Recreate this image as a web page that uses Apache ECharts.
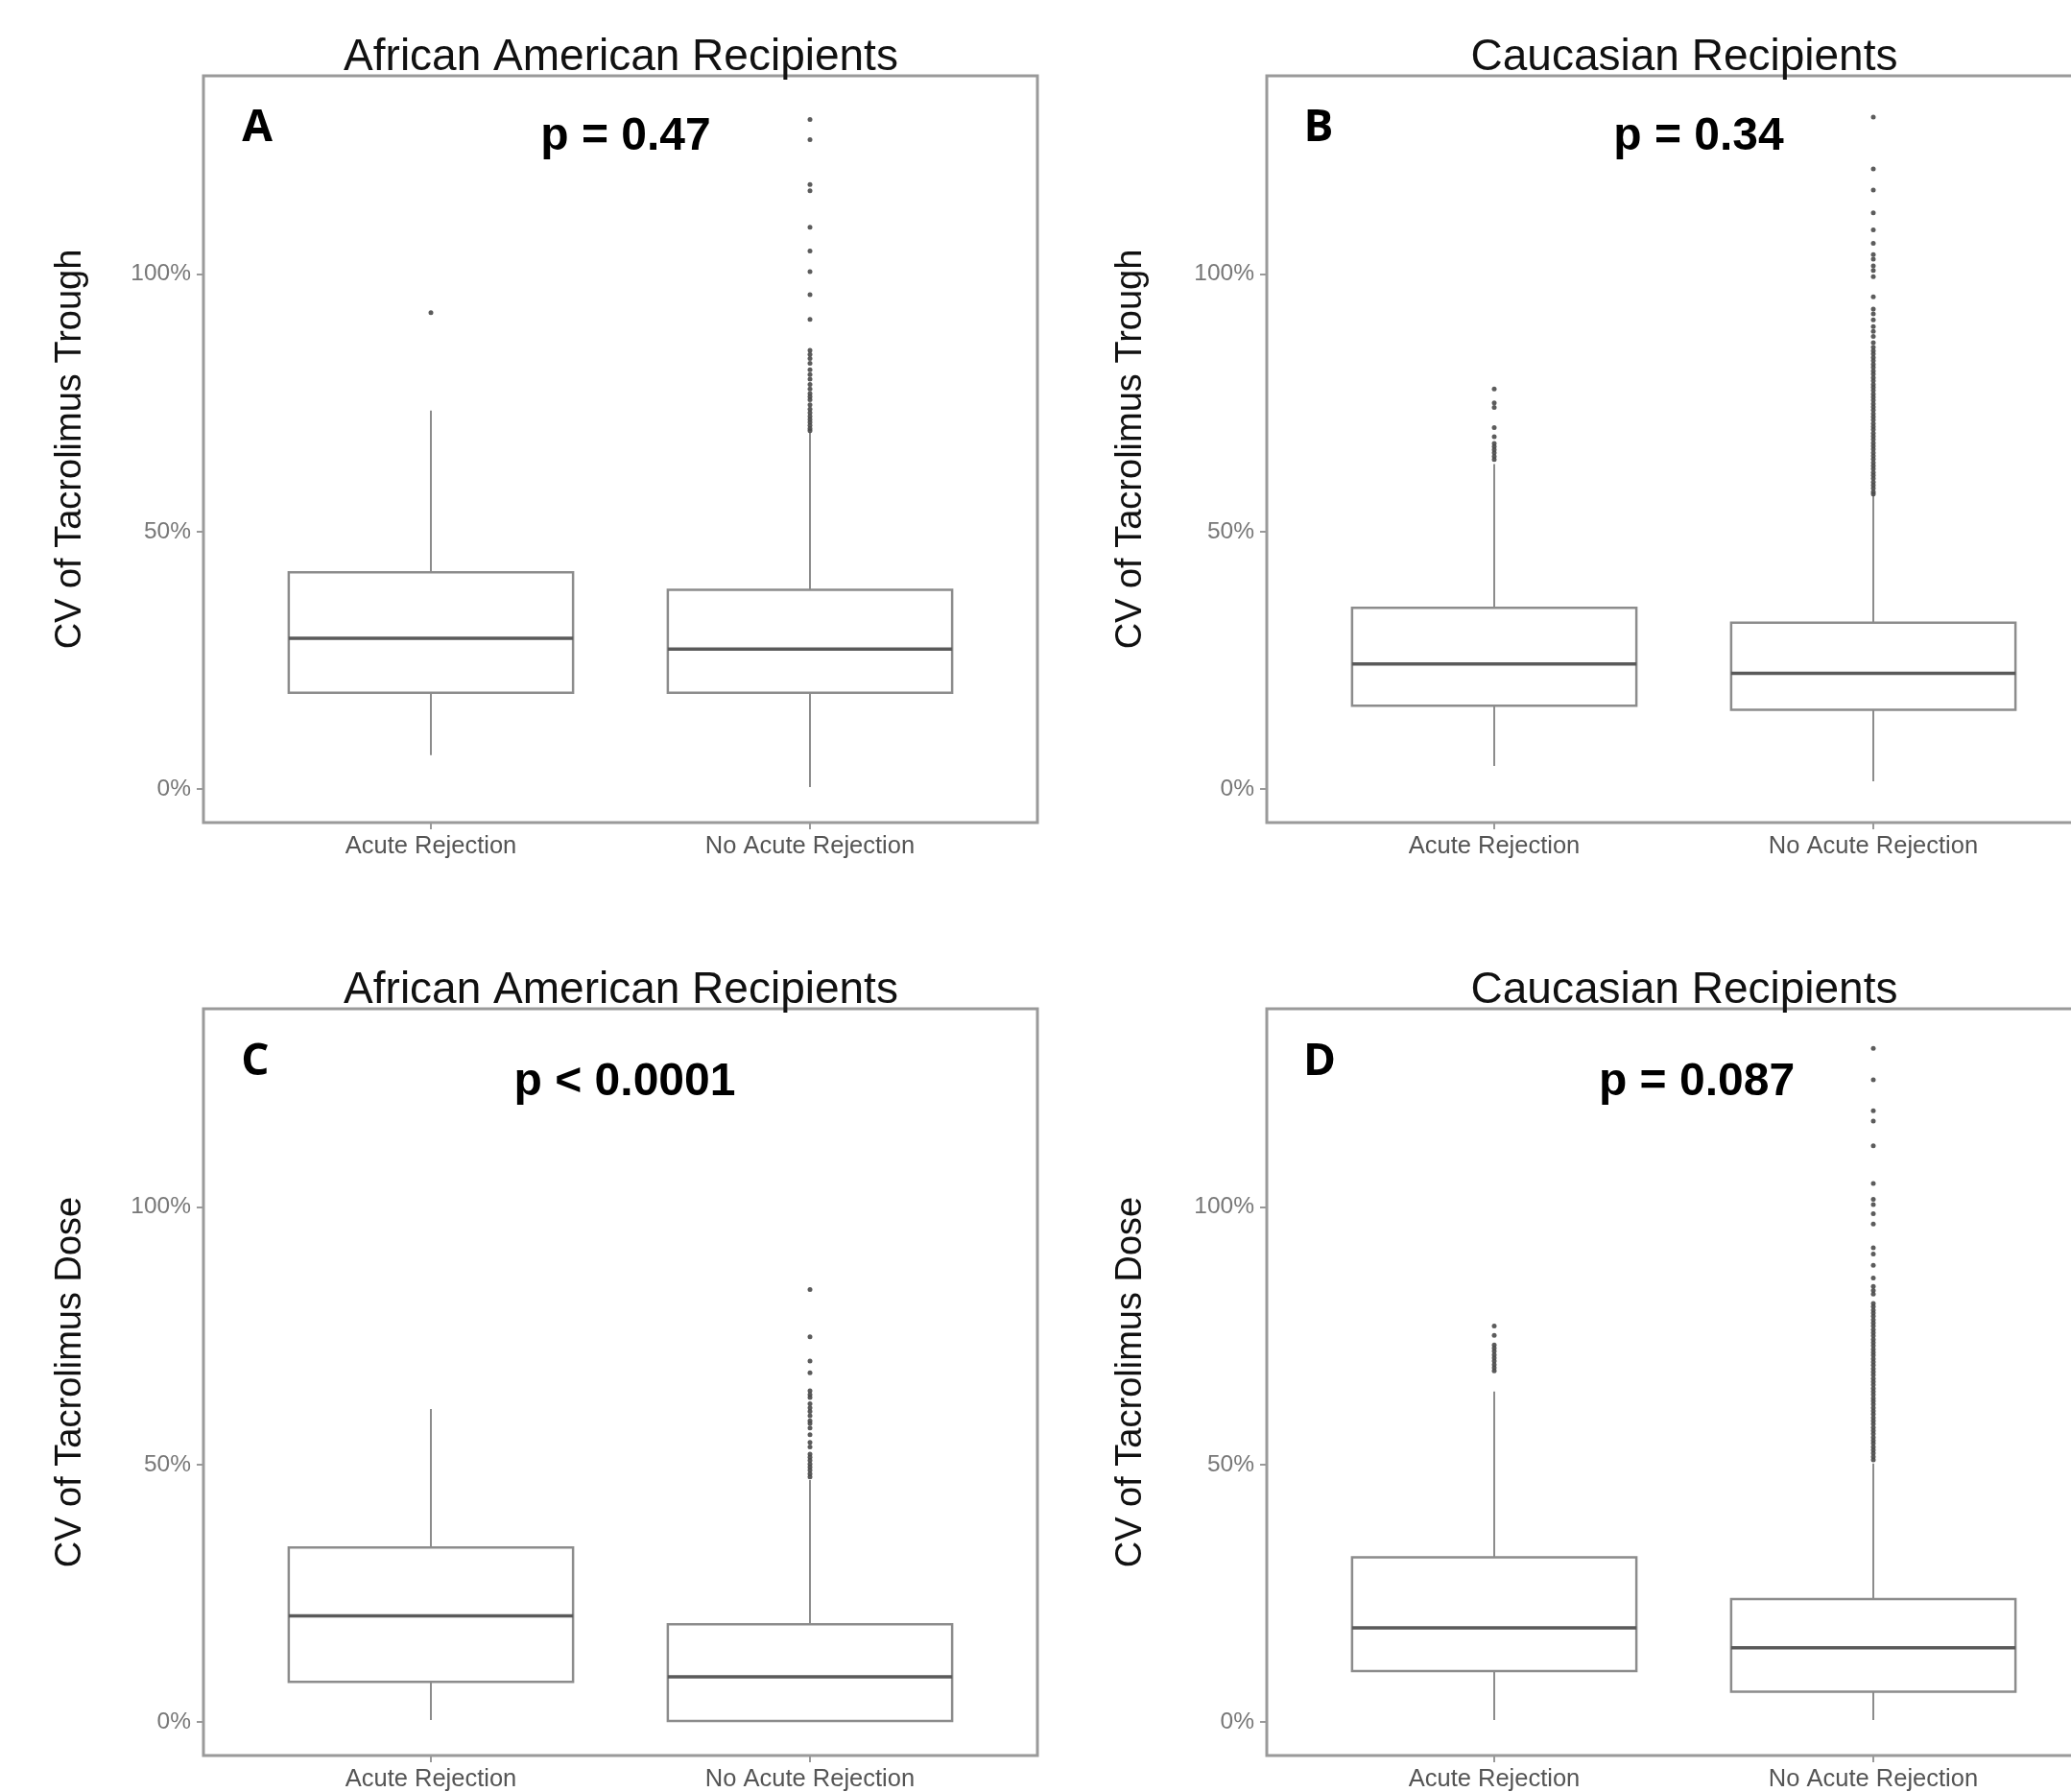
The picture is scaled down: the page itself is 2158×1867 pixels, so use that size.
<!DOCTYPE html>
<html>
<head>
<meta charset="utf-8">
<style>
  html, body { margin: 0; padding: 0; background: #ffffff; }
  #chart { width: 2158px; height: 1867px; }
</style>
<script src="https://cdn.jsdelivr.net/npm/echarts@6/dist/echarts.min.js"></script>
</head>
<body>
<div id="chart"></div>
<script>
// ---------------- data ----------------
const categories = ['Acute Rejection', 'No Acute Rejection'];
const yTicks = [0, 50, 100];
const panelTitles = ['African American Recipients', 'Caucasian Recipients', 'African American Recipients', 'Caucasian Recipients'];
const panelLetters = ['A', 'B', 'C', 'D'];
const pValues = ['p = 0.47', 'p = 0.34', 'p < 0.0001', 'p = 0.087'];
const yAxisTitles = ['CV of Tacrolimus Trough', 'CV of Tacrolimus Trough', 'CV of Tacrolimus Dose', 'CV of Tacrolimus Dose'];

// box statistics (%): [lower whisker, Q1, median, Q3, upper whisker]
const boxA = [[6.6, 18.7, 29.3, 42.1, 73.5], [0.4, 18.7, 27.2, 38.7, 69.3]];
const boxB = [[4.5, 16.2, 24.3, 35.2, 63.1], [1.5, 15.4, 22.5, 32.3, 57.2]];
const boxC = [[0.4, 7.8, 20.6, 33.9, 60.8], [0.0, 0.2, 8.8, 19.0, 47.0]];
const boxD = [[0.4, 9.9, 18.3, 32.0, 64.2], [0.4, 5.9, 14.4, 23.9, 50.2]];

// outliers (%)
const outA_acute = [92.5];
const outA_none = [130.0, 126.1, 117.4, 116.2, 109.1, 104.5, 100.5, 96.0, 91.2,
  85.2, 84.4, 83.6, 82.7, 81.4, 80.5, 79.6, 78.6, 77.7, 76.8, 76.2, 75.6, 74.6, 73.8,
  73.1, 72.4, 71.8, 71.2, 70.6, 70.0, 69.6];
const outB_acute = [77.7, 75.0, 74.1, 70.2, 68.4, 67.1, 66.5, 65.9, 65.3, 64.6, 64.0];
const outB_none = [130.5, 120.4, 116.3, 111.9, 108.6, 106.0, 103.8, 102.9, 101.6, 100.7, 99.5,
  95.6, 93.2, 92.3, 91.1, 89.8, 88.9, 87.9, 86.7, 85.8, 85.1, 84.5, 83.8, 83.2, 82.5,
  81.9, 81.2, 80.6, 79.9, 79.3, 78.6, 78.0, 77.4, 76.7, 76.1, 75.5, 74.8, 74.2, 73.6,
  72.9, 72.3, 71.7, 71.0, 70.4, 69.8, 69.1, 68.5, 67.9, 67.2, 66.6, 66.0, 65.3, 64.7,
  64.1, 63.4, 62.8, 62.2, 61.5, 60.9, 60.3, 59.6, 59.0, 58.4, 57.7, 57.3];
const outC_acute = [];
const outC_none = [84.0, 74.8, 70.1, 67.8, 64.3, 63.6, 63.0, 61.8, 61.0, 60.3, 59.5, 58.5,
  58.0, 57.1, 55.8, 54.3, 53.4, 52.0, 51.4, 50.8, 50.1, 49.5, 48.9, 48.2, 47.6];
const outD_acute = [76.9, 75.1, 73.2, 72.6, 72.0, 71.3, 70.7, 70.1, 69.4, 68.8, 68.2];
const outD_none = [130.8, 124.7, 118.7, 116.7, 111.9, 104.6, 101.5, 100.5, 98.7, 96.7,
  92.1, 90.9, 88.7, 86.2, 84.6, 83.8, 83.1, 81.3, 80.7, 80.0, 79.4, 78.8, 78.1, 77.5,
  76.9, 76.2, 75.6, 75.0, 74.3, 73.7, 73.1, 72.4, 71.8, 71.2, 70.5, 69.9, 69.3, 68.6,
  68.0, 67.4, 66.7, 66.1, 65.5, 64.8, 64.2, 63.6, 62.9, 62.3, 61.7, 61.0, 60.4, 59.8,
  59.1, 58.5, 57.9, 57.2, 56.6, 56.0, 55.3, 54.7, 54.1, 53.4, 52.8, 52.2, 51.5, 50.9];

const boxes = [boxA, boxB, boxC, boxD];
const outliers = [[outA_acute, outA_none], [outB_acute, outB_none], [outC_acute, outC_none], [outD_acute, outD_none]];

// ---------------- layout ----------------
const grids = [
  { left: 212, top: 79, width: 869, height: 778 },
  { left: 1320, top: 79, width: 869, height: 778 },
  { left: 212, top: 1051, width: 869, height: 778 },
  { left: 1320, top: 1051, width: 869, height: 778 }
];

const BORDER = '#9a9a9a';
const BOX = '#8c8c8c';
const MED = '#5a5a5a';
const PT = '#4a4a4a';

const chart = echarts.init(document.getElementById('chart'), null, { renderer: 'canvas' });

const option = {
  animation: false,
  backgroundColor: '#ffffff',
  grid: grids.map(g => Object.assign({ show: true, borderColor: BORDER, borderWidth: 3, backgroundColor: '#fff', containLabel: false, outerBoundsMode: 'none' }, g)),
  xAxis: grids.map((g, i) => ({
    gridIndex: i,
    type: 'value',
    min: 0.4,
    max: 2.6,
    axisLine: { show: false, onZero: false },
    splitLine: { show: false },
    axisTick: { show: true, length: 7, lineStyle: { color: BORDER, width: 2 }, customValues: [1, 2] },
    axisLabel: {
      show: true, customValues: [1, 2], margin: 12,
      fontFamily: 'Liberation Sans', fontSize: 25.5, color: '#555',
      formatter: v => categories[Math.round(v) - 1] || ''
    }
  })),
  yAxis: grids.map((g, i) => ({
    gridIndex: i,
    type: 'value',
    min: -6.5,
    max: 138.5,
    axisLine: { show: false, onZero: false },
    splitLine: { show: false },
    axisTick: { show: true, length: 7, lineStyle: { color: BORDER, width: 2 }, customValues: yTicks },
    axisLabel: {
      show: true, customValues: yTicks, margin: 13,
      fontFamily: 'Liberation Sans', fontSize: 24.5, color: '#777',
      formatter: v => v + '%'
    }
  })),
  series: [],
  graphic: []
};

function boxRender(params, api) {
  const x = api.value(0);
  const lo = api.coord([x, api.value(1)]);
  const q1 = api.coord([x, api.value(2)]);
  const md = api.coord([x, api.value(3)]);
  const q3 = api.coord([x, api.value(4)]);
  const hi = api.coord([x, api.value(5)]);
  const w = api.size([0.75, 0])[0];
  const cx = q1[0];
  return {
    type: 'group',
    children: [
      { type: 'line', shape: { x1: cx, y1: q3[1], x2: cx, y2: hi[1] }, style: { stroke: BOX, lineWidth: 2 } },
      { type: 'line', shape: { x1: cx, y1: q1[1], x2: cx, y2: lo[1] }, style: { stroke: BOX, lineWidth: 2 } },
      { type: 'rect', shape: { x: cx - w / 2, y: q3[1], width: w, height: q1[1] - q3[1] }, style: { fill: '#fff', stroke: BOX, lineWidth: 2.5 } },
      { type: 'line', shape: { x1: cx - w / 2, y1: md[1], x2: cx + w / 2, y2: md[1] }, style: { stroke: MED, lineWidth: 3.5 } }
    ]
  };
}

for (let i = 0; i < 4; i++) {
  option.series.push({
    type: 'custom',
    xAxisIndex: i, yAxisIndex: i,
    renderItem: boxRender,
    clip: false,
    encode: { x: 0, y: [1, 2, 3, 4, 5] },
    data: boxes[i].map((b, k) => [k + 1].concat(b)),
    z: 2
  });
  const pts = [];
  outliers[i].forEach((arr, k) => arr.forEach(v => pts.push([k + 1, v])));
  option.series.push({
    type: 'scatter',
    xAxisIndex: i, yAxisIndex: i,
    symbol: 'circle',
    symbolSize: 5,
    itemStyle: { color: PT, opacity: 0.9 },
    data: pts,
    z: 3
  });
}

// texts
const titlePos = [[647, 60], [1755, 60], [647, 1032], [1755, 1032]];
const ylabPos = [[74, 468], [1179, 468], [74, 1440], [1179, 1440]];
const letterPos = [[268, 134], [1374, 134], [266, 1107], [1375, 1107]];
const pPos = [[652, 143], [1770, 143], [651, 1128], [1768, 1128]];

for (let i = 0; i < 4; i++) {
  option.graphic.push({
    type: 'text', x: titlePos[i][0], y: titlePos[i][1], z: 10,
    style: { text: panelTitles[i], fontFamily: 'Liberation Sans', fontSize: 46, fill: '#111', textAlign: 'center', textVerticalAlign: 'middle' }
  });
  option.graphic.push({
    type: 'text', x: ylabPos[i][0], y: ylabPos[i][1], rotation: Math.PI / 2, z: 10,
    style: { text: yAxisTitles[i], fontFamily: 'Liberation Sans', fontSize: 38, fill: '#111', textAlign: 'center', textVerticalAlign: 'middle' }
  });
  option.graphic.push({
    type: 'text', x: letterPos[i][0], y: letterPos[i][1], z: 10,
    style: { text: panelLetters[i], fontFamily: 'Open Sans', fontWeight: 'bold', fontSize: 46, fill: '#000', textAlign: 'center', textVerticalAlign: 'middle' }
  });
  option.graphic.push({
    type: 'text', x: pPos[i][0], y: pPos[i][1], z: 10,
    style: { text: pValues[i], fontFamily: 'Liberation Sans', fontWeight: 'bold', fontSize: 48, fill: '#000', textAlign: 'center', textVerticalAlign: 'middle' }
  });
}

chart.setOption(option);
</script>
</body>
</html>
